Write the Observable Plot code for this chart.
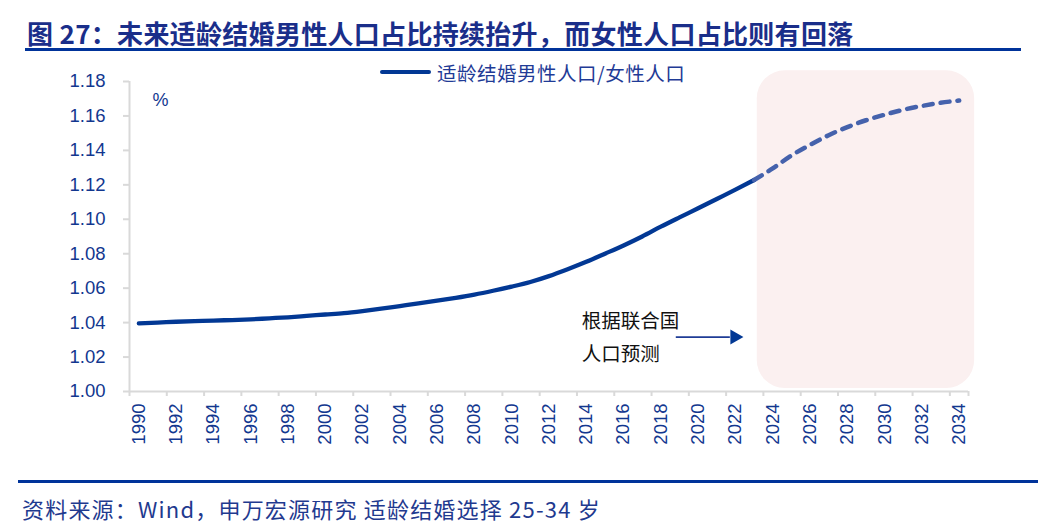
<!DOCTYPE html>
<html>
<head>
<meta charset="utf-8">
<script src="https://cdn.jsdelivr.net/npm/d3@7"></script>
<script src="https://cdn.jsdelivr.net/npm/@observablehq/plot@0.6"></script>
<style>
  body { margin: 0; background: #fff; }
  #page { position: relative; width: 1050px; height: 527px; overflow: hidden; background: #fff;
          font-family: "Liberation Sans", "Noto Sans CJK SC", sans-serif; }
  #chart { position: absolute; left: 0; top: 0; }
  #title { position: absolute; left: 27px; top: 15px; font-family: "Noto Sans CJK SC", sans-serif;
           font-weight: 700; font-size: 26px; letter-spacing: 0.3px; line-height: 36px; color: #1a2e8a; white-space: nowrap; }
  #titleRule { position: absolute; left: 25px; top: 48px; width: 996px; height: 3px; background: #00339a; }
  #footRule { position: absolute; left: 18px; top: 480px; width: 1020px; height: 3px; background: #00339a; }
  #foot { position: absolute; left: 22px; top: 493px; font-family: "Noto Sans CJK SC", sans-serif;
          font-size: 22px; letter-spacing: 1.2px; line-height: 30px; color: #1f3a8f; white-space: nowrap; }
  #legend { position: absolute; left: 380px; top: 58px; height: 28px; display: flex; align-items: center;
            font-family: "Noto Sans CJK SC", sans-serif; font-size: 19.5px; letter-spacing: 0.5px; color: #1f3b96; white-space: nowrap; }
  #legend .sw { width: 51px; height: 4.5px; border-radius: 2px; background: #023894; margin-right: 6px; }
</style>
</head>
<body>
<div id="page">
  <div id="chart"></div>
  <div id="title"></div>
  <div id="titleRule"></div>
  <div id="legend"><span class="sw"></span><span id="legendText"></span></div>
  <div id="footRule"></div>
  <div id="foot"></div>
</div>
<script>
// ---- data ----
const titleText = "图 27：未来适龄结婚男性人口占比持续抬升，而女性人口占比则有回落";
const footText = "资料来源：Wind，申万宏源研究 适龄结婚选择 25-34 岁";
const seriesName = "适龄结婚男性人口/女性人口";
const unitLabel = "%";
const annotationLines = ["根据联合国", "人口预测"];

const years = [1990,1991,1992,1993,1994,1995,1996,1997,1998,1999,
               2000,2001,2002,2003,2004,2005,2006,2007,2008,2009,
               2010,2011,2012,2013,2014,2015,2016,2017,2018,2019,
               2020,2021,2022,2023,2024,2025,2026,2027,2028,2029,
               2030,2031,2032,2033,2034];
const ratio = [1.0395,1.0400,1.0405,1.0409,1.0412,1.0415,1.0419,1.0425,1.0431,1.0439,
               1.0447,1.0455,1.0467,1.0481,1.0496,1.0511,1.0527,1.0544,1.0563,1.0585,
               1.0609,1.0636,1.0670,1.0710,1.0753,1.0800,1.0848,1.0900,1.0957,1.1011,
               1.1064,1.1118,1.1172,1.1228,1.1295,1.1370,1.1432,1.1488,1.1535,1.1575,
               1.1607,1.1636,1.1658,1.1676,1.1690];
const lastActualYear = 2023;
const yTicks = [1.00,1.02,1.04,1.06,1.08,1.10,1.12,1.14,1.16,1.18];
const xLabelYears = [1990,1992,1994,1996,1998,2000,2002,2004,2006,2008,2010,2012,2014,2016,
                     2018,2020,2022,2024,2026,2028,2030,2032,2034];

// ---- build ----
const rows = years.map((year, i) => ({year, value: ratio[i]}));
const actual = rows.filter(d => d.year <= lastActualYear);
const forecast = rows.filter(d => d.year >= lastActualYear);
const xBoundaries = xLabelYears.map(y => y - 0.5).concat([xLabelYears[xLabelYears.length - 1] + 0.5]);

const navy = "#023894";
const textNavy = "#12378f";
const axisGray = "#d9d9d9";

document.getElementById("title").textContent = titleText;
document.getElementById("foot").textContent = footText;
document.getElementById("legendText").textContent = seriesName;

const forecastBox = {x1: 2023.17, x2: 2034.83, y1: 1.0017, y2: 1.1862};
const arrowSpec = {x1: 2018.8, x2: 2021.7, y: 1.0316, tipX: 2021.96};
const annoX = 2013.75;
const annoY = [1.0405, 1.0215];

const chart = Plot.plot({
  width: 1050,
  height: 470,
  marginTop: 81,
  marginBottom: 79,
  marginLeft: 129,
  marginRight: 82,
  x: {domain: [1989.5, 2034.5]},
  y: {domain: [1.00, 1.18]},
  style: {background: "transparent", fontFamily: "'Liberation Sans', 'Noto Sans CJK SC', sans-serif", overflow: "visible"},
  marks: [
    Plot.rect([forecastBox], {x1: "x1", x2: "x2", y1: "y1", y2: "y2", fill: "#fbf0f0", rx: 28}),
    Plot.ruleY([1.00], {stroke: axisGray, strokeWidth: 2}),
    Plot.ruleX([1989.5], {stroke: axisGray, strokeWidth: 2}),
    Plot.axisY(yTicks, {tickSize: 6, tickPadding: 18, tickFormat: d => d.toFixed(2), stroke: axisGray,
      strokeWidth: 2, fill: textNavy, fontSize: 18.5, label: null}),
    Plot.axisX(xBoundaries, {tickSize: 5, tickFormat: () => "", stroke: axisGray, strokeWidth: 2, label: null}),
    Plot.axisX(xLabelYears, {tickSize: 0, tickPadding: 12, tickRotate: -90, tickFormat: d => String(d),
      fill: textNavy, fontSize: 18.5, label: null}),
    Plot.line(actual, {x: "year", y: "value", stroke: navy, strokeWidth: 4.3, curve: "monotone-x"}),
    Plot.line(forecast, {x: "year", y: "value", stroke: "#4562ac", strokeWidth: 4.5, curve: "monotone-x",
      strokeDasharray: "9,8", strokeLinecap: "round"}),
    Plot.text([unitLabel], {frameAnchor: "top-left", textAnchor: "start", lineAnchor: "middle",
      dx: 23, dy: 19, fontSize: 18, fill: textNavy}),
    Plot.text(annotationLines, {x: () => annoX, y: (d, i) => annoY[i], text: d => d, textAnchor: "start",
      fontSize: 19.5, fill: "#111", fontFamily: "'Noto Sans CJK SC', sans-serif"}),
    Plot.link([arrowSpec], {x1: "x1", x2: "x2", y1: "y", y2: "y", stroke: "#1f3c96", strokeWidth: 1.6}),
    Plot.dot([arrowSpec], {x: "tipX", y: "y", symbol: "triangle", rotate: 90, r: 5.6, fill: navy, stroke: "none"})
  ]
});
document.getElementById("chart").appendChild(chart);
</script>
</body>
</html>
